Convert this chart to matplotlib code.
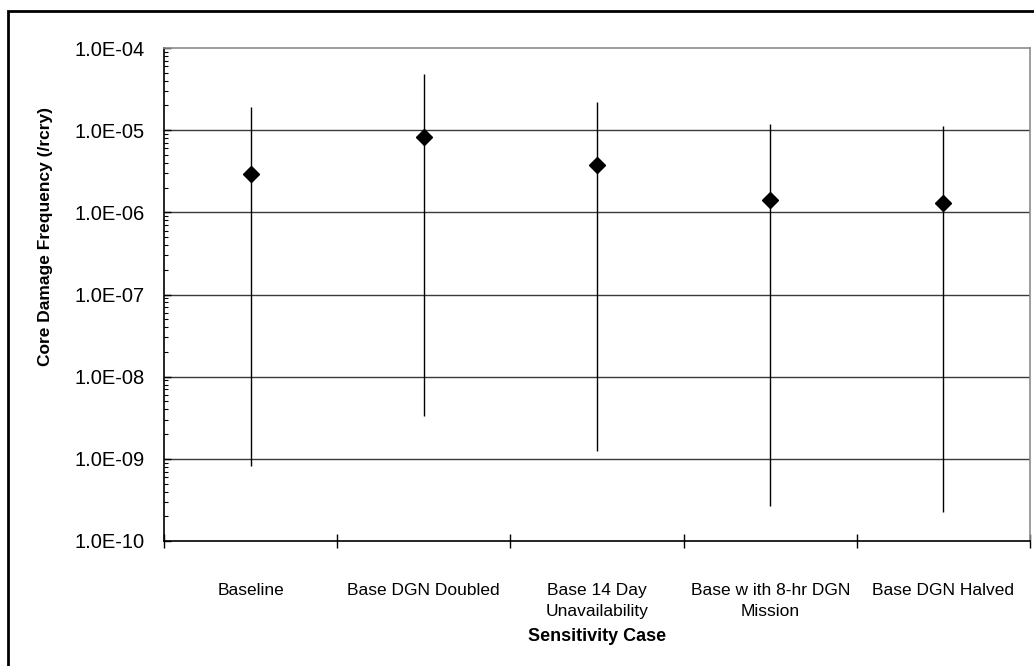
import matplotlib
matplotlib.use("Agg")
import matplotlib.pyplot as plt
from matplotlib.patches import Rectangle
from matplotlib.ticker import FixedLocator, LogLocator, NullFormatter, FuncFormatter
import numpy as np

categories = ["Baseline", "Base DGN Doubled", "Base 14 Day\nUnavailability",
              "Base w ith 8-hr DGN\nMission", "Base DGN Halved"]
point_values = [2.9e-6, 8.3e-6, 3.8e-6, 1.41e-6, 1.29e-6]
upper_values = [1.9e-5, 4.8e-5, 2.2e-5, 1.18e-5, 1.11e-5]
lower_values = [8.2e-10, 3.3e-9, 1.26e-9, 2.7e-10, 2.24e-10]
ytick_values = [1e-10, 1e-9, 1e-8, 1e-7, 1e-6, 1e-5, 1e-4]

plt.rcParams['font.family'] = ['Liberation Sans', 'DejaVu Sans']

fig = plt.figure(figsize=(10.34, 6.66), dpi=100)
ax = fig.add_axes([164/1034, 1-541/666, (1030-164)/1034, (541-48)/666])

x = np.arange(len(categories))
ax.vlines(x, lower_values, upper_values, color='black', lw=1.0, zorder=3)
ax.plot(x, point_values, linestyle='none', marker='D', markersize=8.5,
        color='black', zorder=4)

ax.set_yscale('log')
ax.set_ylim(1e-10, 1e-4)
ax.set_xlim(-0.5, len(categories) - 0.5)

ax.yaxis.set_major_locator(FixedLocator(ytick_values))
ax.yaxis.set_major_formatter(FuncFormatter(lambda v, p: "1.0E%03d" % int(round(np.log10(v)))))
ax.yaxis.set_minor_locator(LogLocator(base=10, subs=np.arange(2, 10)))
ax.yaxis.set_minor_formatter(NullFormatter())
ax.tick_params(axis='y', which='major', direction='in', length=5, width=1,
               labelsize=14.5, pad=14)
ax.tick_params(axis='y', which='minor', direction='in', length=3, width=0.8)

ax.xaxis.set_major_locator(FixedLocator(np.arange(-0.5, len(categories), 1.0)))
ax.xaxis.set_major_formatter(NullFormatter())
ax.xaxis.set_minor_locator(FixedLocator(x))
ax.set_xticklabels(categories, minor=True, linespacing=1.5)
ax.tick_params(axis='x', which='minor', length=0, labelsize=12.5, pad=30)
ax.tick_params(axis='x', which='major', direction='inout', length=10, width=1)

for v in ytick_values[1:-1]:
    ax.axhline(v, color='#3a3a3a', lw=1.0, zorder=1)

for s in ['left', 'bottom']:
    ax.spines[s].set_color('black')
    ax.spines[s].set_linewidth(1.2)
for s in ['top', 'right']:
    ax.spines[s].set_color('#8c8c8c')
    ax.spines[s].set_linewidth(1.2)

ax.set_ylabel("Core Damage Frequency (/rcry)", fontsize=12.5, fontweight='bold')
ax.yaxis.set_label_coords((53 - 164) / 866, (541 - 236) / 493)
ax.set_xlabel("Sensitivity Case", fontsize=13, fontweight='bold', labelpad=7)

frame = Rectangle((8/1034, -0.2), 1.5, (666-11)/666 + 0.2, transform=fig.transFigure,
                  fill=False, edgecolor='black', lw=2, clip_on=False)
fig.patches.append(frame)

fig.savefig("out.png", dpi=100)
